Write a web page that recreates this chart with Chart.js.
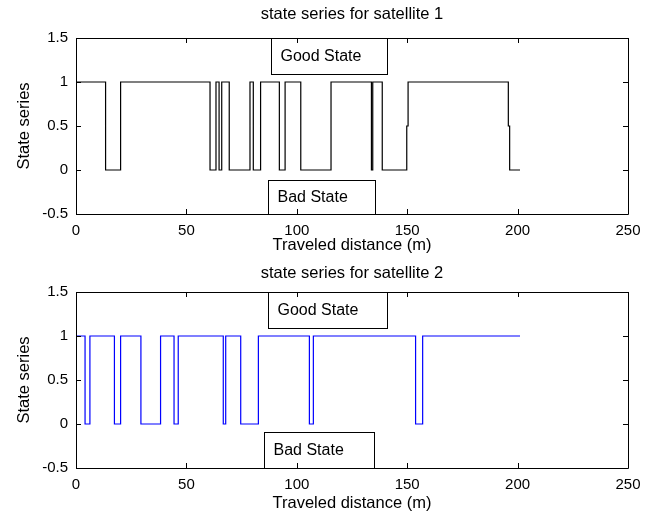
<!DOCTYPE html>
<html>
<head>
<meta charset="utf-8">
<script src="https://cdn.jsdelivr.net/npm/chart.js@4"></script>
<style>
  body { margin: 0; background: #fff; }
  canvas { position: absolute; left: 0; }
  #c1 { top: 0; }
  #c2 { top: 254px; }
</style>
</head>
<body>
<canvas id="c1" width="655" height="256"></canvas>
<canvas id="c2" width="655" height="259"></canvas>
<script>
// state change points (distance in m, state after the change)
let sat1Dist = [0, 13.4, 20.2, 60.7, 63.4, 64.8, 66.0, 69.4, 78.8, 80.3, 83.6, 92.1, 94.7, 101.8,
  115.5, 133.8, 134.4, 138.7, 149.8, 150.4, 195.8, 196.4, 201.1];
let sat1State = [1, 0, 1, 0, 1, 0, 1, 0, 1, 0, 1, 0, 1, 0,
  1, 0, 1, 0, 0.5, 1, 0.5, 0, 0];

let sat2Dist = [0, 4.1, 6.3, 17.4, 20.2, 29.4, 38.3, 44.4, 46.3, 66.7, 67.8, 74.6, 82.6,
  105.7, 107.5, 153.8, 157.0, 201.1];
let sat2State = [1, 0, 1, 0, 1, 0, 1, 0, 1, 0, 1, 0, 1,
  0, 1, 0, 1, 1];

let xTicks = [0, 50, 100, 150, 200, 250];
let yTicks = [-0.5, 0, 0.5, 1, 1.5];

const FONT = "'Liberation Sans', Arial, sans-serif";

// frame, inward ticks and the two labelled boxes
const matlabAxes = {
  id: "matlabAxes",
  afterDraw(chart, args, opts) {
    const { ctx, chartArea: a, scales } = chart;
    const x = scales.x, y = scales.y;
    ctx.save();
    ctx.strokeStyle = "#000";
    ctx.lineWidth = 1;
    ctx.beginPath();
    ctx.rect(Math.round(a.left) + 0.5, Math.round(a.top) + 0.5,
      Math.round(a.right - a.left), Math.round(a.bottom - a.top));
    xTicks.forEach((t) => {
      const px = Math.round(x.getPixelForValue(t)) + 0.5;
      ctx.moveTo(px, a.bottom); ctx.lineTo(px, a.bottom - 5);
      ctx.moveTo(px, a.top); ctx.lineTo(px, a.top + 5);
    });
    yTicks.forEach((t) => {
      const py = Math.round(y.getPixelForValue(t)) + 0.5;
      ctx.moveTo(a.left, py); ctx.lineTo(a.left + 5, py);
      ctx.moveTo(a.right, py); ctx.lineTo(a.right - 5, py);
    });
    ctx.stroke();

    ctx.font = "16px " + FONT;
    ctx.fillStyle = "#000";
    ctx.textBaseline = "middle";
    opts.boxes.forEach((b) => {
      const l = Math.round(x.getPixelForValue(b.x0)) + 0.5;
      const r = Math.round(x.getPixelForValue(b.x1)) + 0.5;
      const t = Math.round(y.getPixelForValue(b.y0)) + 0.5;
      const btm = Math.round(y.getPixelForValue(b.y1)) + 0.5;
      ctx.strokeRect(l, t, r - l, btm - t);
      ctx.fillText(b.text, l + 9, (t + btm) / 2);
    });
    ctx.restore();
  },
};

function makeChart(id, dist, state, color, title, boxes, titlePad, xHeight, xTitlePad) {
  return new Chart(document.getElementById(id), {
    type: "line",
    data: {
      datasets: [
        {
          data: dist.map((d, i) => ({ x: d, y: state[i] })),
          borderColor: color,
          borderWidth: 1.2,
          pointRadius: 0,
          stepped: "before",
          fill: false,
        },
      ],
    },
    options: {
      responsive: false,
      animation: false,
      layout: { padding: { left: 0, right: 27, top: 0, bottom: 0 } },
      plugins: {
        legend: { display: false },
        tooltip: { enabled: false },
        title: {
          display: true,
          fullSize: false,
          text: title,
          color: "#000",
          font: { family: FONT, size: 16.5, weight: "normal", lineHeight: 1.2121 },
          padding: titlePad,
        },
        matlabAxes: { boxes: boxes },
      },
      scales: {
        x: {
          type: "linear",
          min: 0,
          max: 250,
          afterBuildTicks: (s) => { s.ticks = xTicks.map((v) => ({ value: v })); },
          afterFit: (s) => { s.height = xHeight; },
          grid: { display: false, drawTicks: false },
          border: { display: false },
          ticks: { color: "#000", padding: 8, font: { family: FONT, size: 15 }, maxRotation: 0 },
          title: {
            display: true,
            text: "Traveled distance (m)",
            color: "#000",
            font: { family: FONT, size: 16.5, lineHeight: 1.2121 },
            padding: { top: 0, bottom: xTitlePad },
          },
        },
        y: {
          min: -0.5,
          max: 1.5,
          afterBuildTicks: (s) => { s.ticks = yTicks.map((v) => ({ value: v })); },
          afterFit: (s) => { s.width = 76; },
          grid: { display: false, drawTicks: false },
          border: { display: false },
          ticks: { color: "#000", padding: 8, font: { family: FONT, size: 15 }, callback: (v) => String(v) },
          title: {
            display: true,
            text: "State series",
            color: "#000",
            font: { family: FONT, size: 16.5, lineHeight: 1.2121 },
            padding: { top: 14, bottom: 0 },
          },
        },
      },
    },
    plugins: [matlabAxes],
  });
}

makeChart("c1", sat1Dist, sat1State, "#000000", "state series for satellite 1",
  [
    { x0: 88.2, x1: 141.0, y0: 1.5, y1: 1.09, text: "Good State" },
    { x0: 87.1, x1: 135.4, y0: -0.11, y1: -0.5, text: "Bad State" },
  ],
  { top: 4, bottom: 14 }, 42, 1);

makeChart("c2", sat2Dist, sat2State, "#0000ff", "state series for satellite 2",
  [
    { x0: 87.0, x1: 141.0, y0: 1.5, y1: 1.09, text: "Good State" },
    { x0: 85.1, x1: 135.0, y0: -0.09, y1: -0.5, text: "Bad State" },
  ],
  { top: 9, bottom: 9 }, 45, 0);
</script>
</body>
</html>
